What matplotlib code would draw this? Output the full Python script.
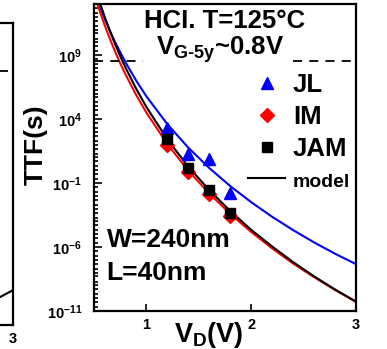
import math
import matplotlib
matplotlib.use('Agg')
import matplotlib.pyplot as plt
import matplotlib.ticker as ticker
from matplotlib.font_manager import FontProperties

plt.rcParams['font.family'] = ['Liberation Sans', 'DejaVu Sans']
plt.rcParams['font.weight'] = 'bold'
plt.rcParams['mathtext.fontset'] = 'custom'
plt.rcParams['mathtext.rm'] = 'Liberation Sans:bold'
plt.rcParams['mathtext.bf'] = 'Liberation Sans:bold'
plt.rcParams['mathtext.it'] = 'Liberation Sans:bold'

# measured points (drain voltage, time to failure)
vd_meas = [1.2, 1.4, 1.6, 1.8]
ttf_jl = [2.0e3, 1.8e1, 8.0e0, 1.6e-2]
ttf_im = [1.0e2, 7.0e-1, 1.4e-2, 2.5e-4]
ttf_jam = [2.8e2, 1.6e0, 2.8e-2, 5.0e-4]

# model curves
vd_model = [0.5, 0.55, 0.6, 0.65, 0.7, 0.75, 0.8, 0.9, 1.0, 1.2, 1.4,
            1.6, 1.8, 2.0, 2.2, 2.4, 2.6, 2.8, 3.0]
model_jl = [1.1e14, 8.3e12, 7.6e11, 8.5e10, 1.1e10, 1.7e9, 2.8e8, 1.1e7,
            6.0e5, 4.0e3, 5.8e1, 1.5e0, 5.8e-2, 3.2e-3, 2.3e-4, 2.1e-5,
            2.3e-6, 3.0e-7, 4.6e-8]
model_im = [6.8e13, 3.5e12, 2.4e11, 2.0e10, 2.0e9, 2.3e8, 3.2e7, 8.3e5,
            3.2e4, 1.1e2, 9.3e-1, 1.5e-2, 3.9e-4, 1.5e-5, 7.8e-7, 5.1e-8,
            4.4e-9, 4.4e-10, 5.1e-11]
model_jam = [3.5e14, 1.7e13, 1.1e12, 8.3e10, 7.8e9, 8.5e8, 1.1e8, 2.6e6,
             8.9e4, 2.6e2, 1.9e0, 2.8e-2, 6.5e-4, 2.2e-5, 1.1e-6, 6.6e-8,
             5.1e-9, 4.8e-10, 5.4e-11]

ten_year = 3.7e8

# fragment of the neighbouring panel on the left
left_vd = [2.6, 3.0]
left_ttf = [1.0e-10, 6.0e-9]
left_ref = 1.6e9

fig = plt.figure(figsize=(3.87, 3.49), dpi=100)
ax = fig.add_axes([0.2429, 0.1089, 0.677, 0.8797])

ax.plot(vd_model, model_jl, color='#0000ff', lw=1.5)
ax.plot(vd_model, model_im, color='#ff0000', lw=1.5)
model_line, = ax.plot(vd_model, model_jam, color='black', lw=1.5)

jl, = ax.plot(vd_meas, ttf_jl, '^', color='#0000ff', ms=8.5, ls='none')
im, = ax.plot(vd_meas, ttf_im, 'D', color='#ff0000', ms=7.5, ls='none')
jam, = ax.plot(vd_meas, ttf_jam, 's', color='black', ms=6.5, ls='none')

ax.axhline(ten_year, xmin=0, xmax=0.187, color='black', lw=1.3, dashes=(5, 4))
ax.axhline(ten_year, xmin=0.76, xmax=1, color='black', lw=1.3, dashes=(5, 4))

ax.set_yscale('log')
ax.set_xlim(0.5, 3)
ax.set_ylim(1e-11, 1e13)
ax.set_xticks([1, 2, 3])
ax.xaxis.set_major_formatter(ticker.FormatStrFormatter('%d'))
ax.yaxis.set_major_locator(ticker.FixedLocator([1e-11, 1e-6, 1e-1, 1e4, 1e9]))
ax.yaxis.set_major_formatter(ticker.FuncFormatter(
    lambda v, pos: r'$\mathbf{10^{%d}}$' % round(math.log10(v))))
ax.yaxis.set_minor_locator(ticker.LogLocator(base=10, subs=(1.0, 2.0, 5.0), numticks=80))
ax.yaxis.set_minor_formatter(ticker.NullFormatter())
ax.tick_params(axis='both', which='both', direction='in', width=1.2)
ax.tick_params(axis='x', which='major', length=5, labelsize=10.5, pad=5)
ax.tick_params(axis='y', which='major', length=6, labelsize=10.5, pad=8.5)
ax.tick_params(axis='y', which='minor', length=3)
for s in ax.spines.values():
    s.set_linewidth(1.6)

ax.set_ylabel('TTF(s)', fontsize=19, fontweight='bold')
ax.yaxis.set_label_coords(-0.175, 0.542)
ax.set_xlabel(r'V$_\mathbf{D}$(V)', fontsize=19.5, fontweight='bold', va='top')
ax.xaxis.set_label_coords(0.44, -0.03)

ax.text(0.5, 0.921, 'HCI. T=125°C', transform=ax.transAxes, ha='center',
        va='baseline', fontsize=18.5, fontweight='bold')
ax.text(0.48, 0.836, 'V$_{\\mathbf{G\u20105y}}$~0.8V', transform=ax.transAxes,
        ha='center', va='baseline', fontsize=18.5, fontweight='bold')
ax.text(0.048, 0.209, 'W=240nm', transform=ax.transAxes, ha='left',
        va='baseline', fontsize=19, fontweight='bold')
ax.text(0.048, 0.101, 'L=40nm', transform=ax.transAxes, ha='left',
        va='baseline', fontsize=19, fontweight='bold')

leg = ax.legend([jl, im, jam, model_line], ['JL', 'IM', 'JAM', 'model'],
                loc='upper left', bbox_to_anchor=(0.588, 0.776), frameon=False,
                borderpad=0, borderaxespad=0, handlelength=1.45,
                handletextpad=0.3, labelspacing=0.31, numpoints=1,
                prop=FontProperties(family='Liberation Sans', weight='bold', size=18.5))
leg.get_texts()[3].set_fontsize(14)

# left neighbour panel, mostly outside the picture
ax2 = fig.add_axes([-0.643, 0.0688, 0.677, 0.8645])
ax2.plot(left_vd, left_ttf, color='black', lw=1.5)
ax2.axhline(left_ref, color='black', lw=1.3, dashes=(5, 4))
ax2.set_yscale('log')
ax2.set_xlim(0.5, 3)
ax2.set_ylim(1e-11, 1e13)
ax2.set_xticks([3])
ax2.xaxis.set_major_formatter(ticker.FormatStrFormatter('%d'))
ax2.set_yticks([])
ax2.yaxis.set_minor_locator(ticker.NullLocator())
ax2.tick_params(axis='x', direction='in', length=5, labelsize=10.5, pad=5)
for s in ax2.spines.values():
    s.set_linewidth(1.6)

fig.savefig('out.png', dpi=100)
